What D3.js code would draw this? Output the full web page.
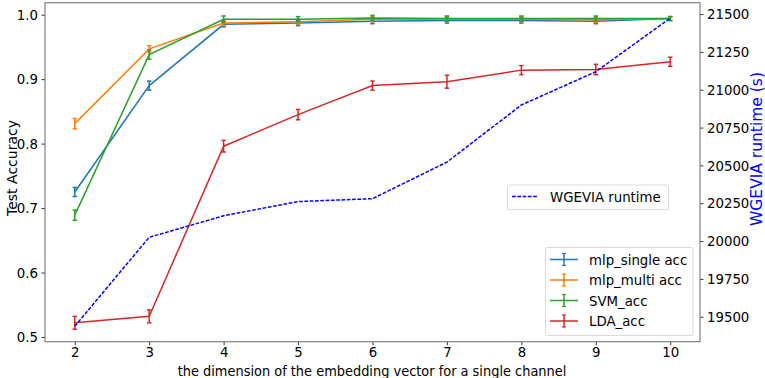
<!DOCTYPE html>
<html>
<head>
<meta charset="utf-8">
<script src="https://cdn.jsdelivr.net/npm/d3@7"></script>
<style>
  body { margin: 0; background: #fff; }
  svg text { font-family: "DejaVu Sans", sans-serif; font-stretch: condensed; fill: #000; }
</style>
</head>
<body>
<svg id="chart" width="765" height="378"></svg>
<script>
"use strict";

/* values */
const dims = [2, 3, 4, 5, 6, 7, 8, 9, 10];
const mlpSingle = [0.725, 0.890, 0.985, 0.987, 0.990, 0.991, 0.991, 0.990, 0.994];
const mlpSingleErr = [0.007, 0.007, 0.004, 0.004, 0.004, 0.004, 0.004, 0.004, 0.003];
const mlpMulti = [0.831, 0.947, 0.987, 0.989, 0.993, 0.993, 0.993, 0.992, 0.994];
const mlpMultiErr = [0.008, 0.005, 0.004, 0.004, 0.004, 0.004, 0.004, 0.004, 0.003];
const svmAcc = [0.689, 0.938, 0.993, 0.993, 0.995, 0.994, 0.994, 0.994, 0.994];
const svmErr = [0.008, 0.007, 0.005, 0.004, 0.004, 0.004, 0.004, 0.004, 0.003];
const ldaAcc = [0.522, 0.532, 0.796, 0.845, 0.890, 0.896, 0.914, 0.915, 0.927];
const ldaErr = [0.010, 0.010, 0.009, 0.008, 0.007, 0.010, 0.007, 0.008, 0.007];
const runtime = [19437, 20025, 20167, 20261, 20280, 20522, 20899, 21119, 21473];

const accTicks = [0.5, 0.6, 0.7, 0.8, 0.9, 1.0];
const runtimeTicks = [19500, 19750, 20000, 20250, 20500, 20750, 21000, 21250, 21500];

const series = [
  { name: 'mlp_single acc', values: mlpSingle, err: mlpSingleErr, color: '#1f77b4' },
  { name: 'mlp_multi acc', values: mlpMulti, err: mlpMultiErr, color: '#ff7f0e' },
  { name: 'SVM_acc', values: svmAcc, err: svmErr, color: '#2ca02c' },
  { name: 'LDA_acc', values: ldaAcc, err: ldaErr, color: '#d62728' }
];

let plot = { left: 45, right: 700, top: 2.7, bottom: 341.7 };
let fontSize = '14.8px';

let svg = d3.select('svg#chart');

let x = d3.scaleLinear().domain([1.6, 10.4]).range([plot.left, plot.right]);
let yAcc = d3.scaleLinear().domain([0.4927, 1.0186]).range([plot.bottom, plot.top]);
let yRun = d3.scaleLinear().domain([19335, 21575]).range([plot.bottom, plot.top]);

/* accuracy lines with error bars */
let lineAcc = d3.line().x((d, i) => x(dims[i])).y(d => yAcc(d));

for (let s of series) {
  let g = svg.append('g');
  g.append('path')
   .attr('d', lineAcc(s.values))
   .attr('fill', 'none')
   .attr('stroke', s.color)
   .attr('stroke-width', 1.5);
  s.values.forEach((v, i) => {
    let cx = x(dims[i]);
    let y0 = yAcc(v - s.err[i]);
    let y1 = yAcc(v + s.err[i]);
    g.append('line')
     .attr('x1', cx).attr('x2', cx).attr('y1', y0).attr('y2', y1)
     .attr('stroke', s.color).attr('stroke-width', 1.5);
    for (let yy of [y0, y1]) {
      g.append('line')
       .attr('x1', cx - 2.2).attr('x2', cx + 2.2).attr('y1', yy).attr('y2', yy)
       .attr('stroke', s.color).attr('stroke-width', 1.5);
    }
  });
}

/* runtime on the twin axis */
let lineRun = d3.line().x((d, i) => x(dims[i])).y(d => yRun(d));
svg.append('path')
   .attr('d', lineRun(runtime))
   .attr('fill', 'none')
   .attr('stroke', '#0000ff')
   .attr('stroke-width', 1.5)
   .attr('stroke-dasharray', '3.7,1.6');

/* axes */
let xAxis = d3.axisBottom(x).tickValues(dims).tickSize(3.5).tickPadding(1.5).tickFormat(d3.format('d'));
let leftAxis = d3.axisLeft(yAcc).tickValues(accTicks).tickSize(3.5).tickPadding(3.5).tickFormat(d3.format('.1f'));
let rightAxis = d3.axisRight(yRun).tickValues(runtimeTicks).tickSize(3.5).tickPadding(3.5).tickFormat(d3.format('d'));

function styleAxis(g) {
  g.select('.domain').remove();
  g.selectAll('.tick line').attr('stroke', '#333');
  g.selectAll('.tick text').style('font-size', fontSize).attr('fill', '#000');
}

svg.append('g').attr('transform', `translate(0,${plot.bottom})`).call(xAxis).call(styleAxis);
svg.append('g').attr('transform', `translate(${plot.left},0)`).call(leftAxis).call(styleAxis);
svg.append('g').attr('transform', `translate(${plot.right},0)`).call(rightAxis).call(styleAxis);

/* frame */
svg.append('rect')
   .attr('x', plot.left).attr('y', plot.top)
   .attr('width', plot.right - plot.left).attr('height', plot.bottom - plot.top)
   .attr('fill', 'none').attr('stroke', '#808080').attr('stroke-width', 1.2);

/* axis titles */
svg.append('text')
   .attr('text-anchor', 'middle')
   .attr('x', 372)
   .attr('y', 375.5)
   .style('font-size', '14.4px')
   .text('the dimension of the embedding vector for a single channel');

svg.append('text')
   .attr('text-anchor', 'middle')
   .attr('transform', 'translate(17,168) rotate(-90)')
   .style('font-size', '14px')
   .style('font-stretch', 'normal')
   .text('Test Accuracy');

svg.append('text')
   .attr('text-anchor', 'middle')
   .attr('transform', 'translate(762,149) rotate(-90)')
   .style('font-size', '15.5px')
   .style('font-stretch', 'normal')
   .style('fill', '#0000ff')
   .text('WGEVIA runtime (s)');

/* runtime legend */
let leg1 = svg.append('g');
leg1.append('rect')
    .attr('x', 507.5).attr('y', 185).attr('width', 161).attr('height', 24.5)
    .attr('rx', 2).attr('fill', '#fff').attr('fill-opacity', 0.8)
    .attr('stroke', '#d9d9d9');
leg1.append('line')
    .attr('x1', 512).attr('x2', 538).attr('y1', 196.5).attr('y2', 196.5)
    .attr('stroke', '#0000ff').attr('stroke-width', 1.5)
    .attr('stroke-dasharray', '3.7,1.6');
leg1.append('text')
    .attr('x', 550).attr('y', 201.5)
    .style('font-size', fontSize)
    .text('WGEVIA runtime');

/* accuracy legend */
let leg2 = svg.append('g');
leg2.append('rect')
    .attr('x', 545.5).attr('y', 247.5).attr('width', 147.5).attr('height', 88)
    .attr('rx', 2).attr('fill', '#fff').attr('fill-opacity', 0.8)
    .attr('stroke', '#d9d9d9');
series.forEach((s, i) => {
  let yy = 259.5 + i * 20.5;
  leg2.append('line')
      .attr('x1', 550).attr('x2', 578).attr('y1', yy).attr('y2', yy)
      .attr('stroke', s.color).attr('stroke-width', 1.5);
  leg2.append('line')
      .attr('x1', 564).attr('x2', 564).attr('y1', yy - 6).attr('y2', yy + 6)
      .attr('stroke', s.color).attr('stroke-width', 1.5);
  for (let c of [yy - 6, yy + 6]) {
    leg2.append('line')
        .attr('x1', 562).attr('x2', 566).attr('y1', c).attr('y2', c)
        .attr('stroke', s.color).attr('stroke-width', 1.2);
  }
  leg2.append('text')
      .attr('x', 589).attr('y', yy + 5)
      .style('font-size', fontSize)
      .text(s.name);
});
</script>
</body>
</html>
